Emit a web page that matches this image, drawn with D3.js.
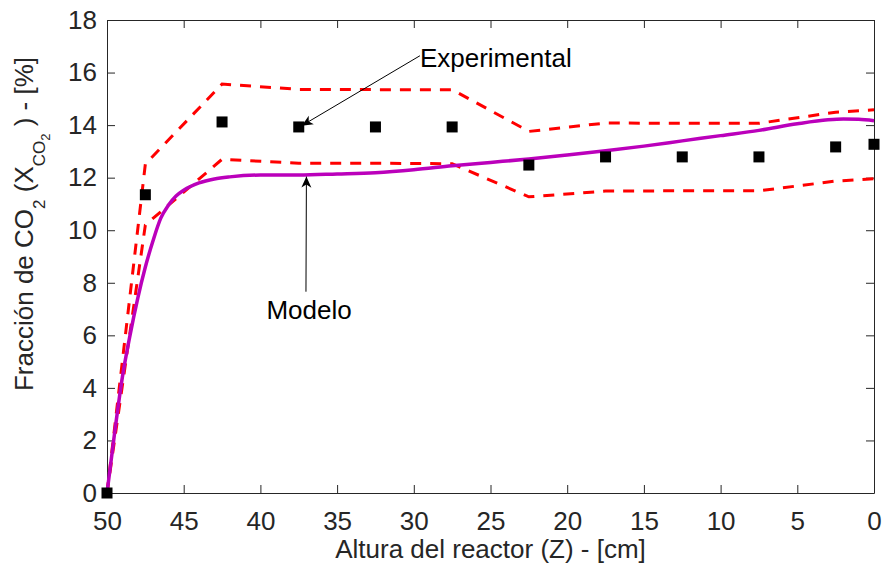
<!DOCTYPE html>
<html>
<head>
<meta charset="utf-8">
<script src="https://cdn.jsdelivr.net/npm/d3@7"></script>
<style>
  body { margin: 0; background: #fff; }
  svg { display: block; font-family: "Liberation Sans", Arial, Helvetica, sans-serif; }
</style>
</head>
<body>
<svg id="chart" width="883" height="569"></svg>
<script>
// data
var zExp = [50, 47.5, 42.5, 37.5, 32.5, 27.5, 22.5, 17.5, 12.5, 7.5, 2.5, 0];
var co2Exp = [0, 11.35, 14.12, 13.93, 13.93, 13.93, 12.48, 12.79, 12.79, 12.79, 13.17, 13.27];
var co2Upper = [0, 12.52, 15.56, 15.36, 15.35, 15.35, 13.76, 14.08, 14.07, 14.07, 14.49, 14.58];
var co2Lower = [0, 10.2, 12.7, 12.55, 12.55, 12.53, 11.27, 11.49, 11.5, 11.5, 11.87, 11.96];

var zModel = [50, 49.5, 49, 48.5, 48, 47.5, 47, 46.5, 46, 45.5, 45, 44, 43, 42, 40, 37.5, 35, 32.5, 30, 27.5, 25, 22.5, 20, 17.5, 15, 12.5, 10, 7.5, 5, 3, 2, 1, 0];
var co2Model = [0, 2.3, 4.4, 6.0, 7.4, 8.6, 9.6, 10.45, 10.95, 11.3, 11.52, 11.8, 11.95, 12.03, 12.1, 12.1, 12.14, 12.19, 12.3, 12.45, 12.58, 12.71, 12.86, 13.02, 13.2, 13.4, 13.6, 13.8, 14.05, 14.2, 14.23, 14.22, 14.17];

var xTicks = [50, 45, 40, 35, 30, 25, 20, 15, 10, 5, 0];
var yTicks = [0, 2, 4, 6, 8, 10, 12, 14, 16, 18];

// annotations: [text, text z, text value, arrow start z, start value, arrow end z, end value]
var noteExp = ["Experimental", 29.6, 16.22, 29.6, 16.64, 37.3, 13.98];
var noteModel = ["Modelo", 36.83, 6.62, 37.03, 7.66, 37.0, 12.04];

var svg = d3.select("#chart");
var pLeft = 107, pRight = 874, pTop = 20, pBottom = 493;
var axisColor = "#262626";
var fs = 26;

var x = d3.scaleLinear().domain([50, 0]).range([pLeft, pRight]);
var y = d3.scaleLinear().domain([0, 18]).range([pBottom, pTop]);

function styleAxis(g) {
  g.select(".domain").attr("stroke", axisColor).attr("stroke-width", 1);
  g.selectAll(".tick line").attr("stroke", axisColor).attr("stroke-width", 1);
  g.selectAll(".tick text").attr("fill", axisColor).attr("font-size", fs).attr("font-family", null);
}

svg.append("g").attr("transform", "translate(0," + pBottom + ")")
  .call(d3.axisBottom(x).tickValues(xTicks).tickSizeInner(-8).tickSizeOuter(0).tickPadding(19))
  .call(styleAxis);
svg.append("g").attr("transform", "translate(0," + pTop + ")")
  .call(d3.axisTop(x).tickValues(xTicks).tickSizeInner(-8).tickSizeOuter(0).tickFormat(""))
  .call(styleAxis);
svg.append("g").attr("transform", "translate(" + pLeft + ",0)")
  .call(d3.axisLeft(y).tickValues(yTicks).tickSizeInner(-8).tickSizeOuter(0).tickPadding(10))
  .call(styleAxis);
svg.append("g").attr("transform", "translate(" + pRight + ",0)")
  .call(d3.axisRight(y).tickValues(yTicks).tickSizeInner(-8).tickSizeOuter(0).tickFormat(""))
  .call(styleAxis);

// lines
var line = d3.line().x(function(d){ return x(d[0]); }).y(function(d){ return y(d[1]); });

[co2Upper, co2Lower].forEach(function(vals){
  svg.append("path")
    .datum(d3.zip(zExp, vals))
    .attr("d", line)
    .attr("fill", "none")
    .attr("stroke", "#ff0000")
    .attr("stroke-width", 3)
    .attr("stroke-dasharray", "11,9");
});

svg.append("path")
  .datum(d3.zip(zModel, co2Model))
  .attr("d", line.curve(d3.curveMonotoneX))
  .attr("fill", "none")
  .attr("stroke", "#bb00bb")
  .attr("stroke-width", 3.5);

// experimental points
var sq = 11;
svg.append("g").selectAll("rect")
  .data(d3.zip(zExp, co2Exp))
  .enter().append("rect")
  .attr("x", function(d){ return x(d[0]) - sq / 2; })
  .attr("y", function(d){ return y(d[1]) - sq / 2; })
  .attr("width", sq)
  .attr("height", sq)
  .attr("fill", "#000");

// arrow head
svg.append("defs").append("marker")
  .attr("id", "head")
  .attr("viewBox", "-12 -6 14 12")
  .attr("markerWidth", 14)
  .attr("markerHeight", 12)
  .attr("markerUnits", "userSpaceOnUse")
  .attr("refX", 0).attr("refY", 0)
  .attr("orient", "auto")
  .append("path")
  .attr("d", "M0,0 L-11,-5 L-8,0 L-11,5 Z")
  .attr("fill", "#000");

[noteExp, noteModel].forEach(function(n, i){
  svg.append("line")
    .attr("x1", x(n[3])).attr("y1", y(n[4]))
    .attr("x2", x(n[5])).attr("y2", y(n[6]))
    .attr("stroke", "#000")
    .attr("stroke-width", 1)
    .attr("marker-end", "url(#head)");
  svg.append("text")
    .attr("x", x(n[1])).attr("y", y(n[2]))
    .attr("text-anchor", i === 0 ? "start" : "middle")
    .attr("font-size", fs)
    .attr("fill", "#000")
    .text(n[0]);
});

// axis labels
svg.append("text")
  .attr("x", (pLeft + pRight) / 2).attr("y", 558)
  .attr("text-anchor", "middle")
  .attr("font-size", fs)
  .attr("fill", axisColor)
  .text("Altura del reactor (Z) - [cm]");

var yl = svg.append("text")
  .attr("transform", "translate(33,224) rotate(-90)")
  .attr("text-anchor", "middle")
  .attr("font-size", fs)
  .attr("fill", axisColor);
yl.append("tspan").text("Fracción de CO");
yl.append("tspan").attr("font-size", 17).attr("dy", 12).text("2");
yl.append("tspan").attr("dy", -12).text(" (X");
yl.append("tspan").attr("font-size", 17).attr("dy", 12).text("CO");
yl.append("tspan").attr("font-size", 13).attr("dy", 5).text("2");
yl.append("tspan").attr("dy", -17).text(" ) - [%]");
</script>
</body>
</html>
